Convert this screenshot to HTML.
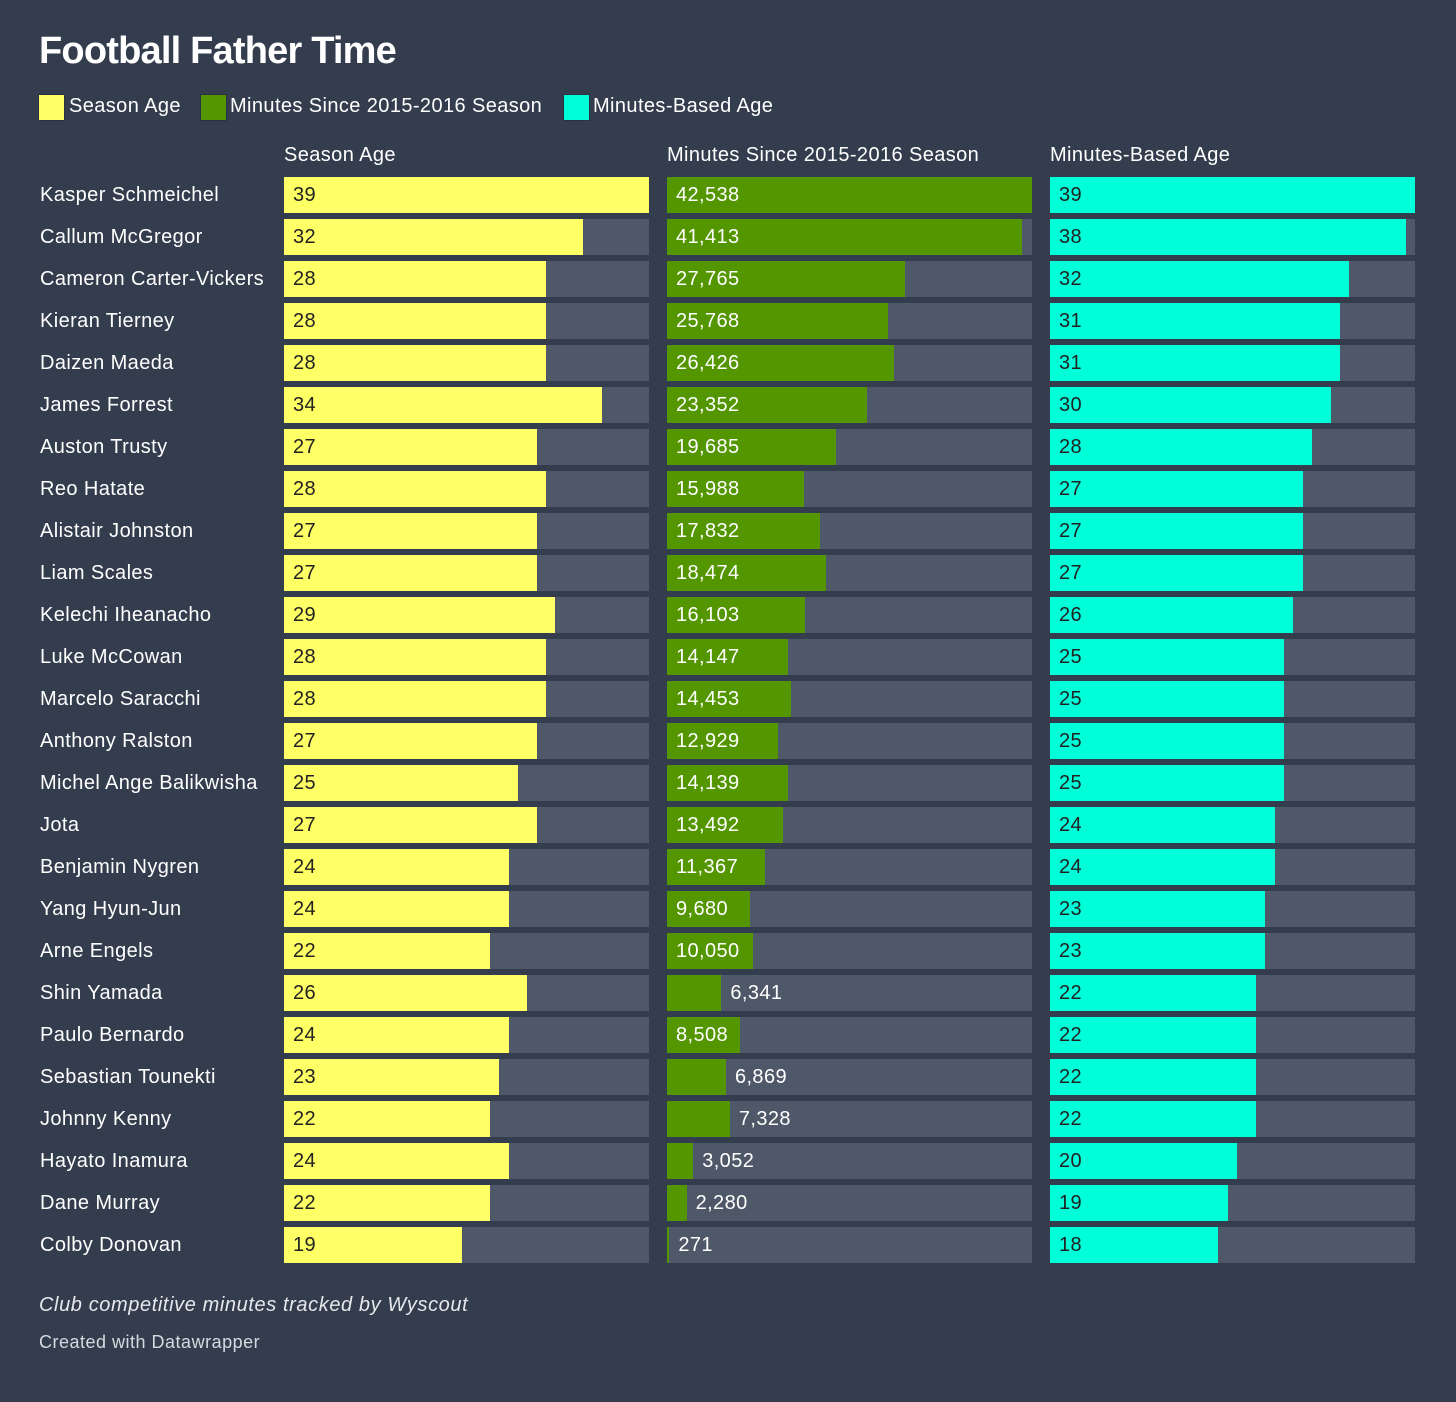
<!DOCTYPE html>
<html><head><meta charset="utf-8"><style>
body{margin:0;width:1456px;height:1402px;background:#333d4e;font-family:"Liberation Sans",sans-serif;color:#fff;position:relative;overflow:hidden}
.a{position:absolute;white-space:nowrap}
.t{font-size:20px;letter-spacing:0.4px}
.bg{position:absolute;background:#4f5868;height:36px}
.bar{position:absolute;left:0;top:0;height:36px}
.lbl{position:absolute;top:0;line-height:36px;font-size:20px;letter-spacing:0.4px}
.sw{position:absolute;width:25px;height:25px;top:94px;border:1px solid #2a3240}
</style></head><body>
<div class="a" style="left:39px;top:30px;font-size:38px;font-weight:bold;letter-spacing:-0.8px">Football Father Time</div>
<div>
<div class="sw" style="left:38px;background:#ffff66"></div>
<div class="a t" style="left:69px;top:95px">Season Age</div>
<div class="sw" style="left:200px;background:#549600"></div>
<div class="a t" style="left:230px;top:95px">Minutes Since 2015-2016 Season</div>
<div class="sw" style="left:563px;background:#00ffd8"></div>
<div class="a t" style="left:593px;top:95px">Minutes-Based Age</div>
</div>
<div class="a t" style="left:284px;top:144px">Season Age</div>
<div class="a t" style="left:667px;top:144px">Minutes Since 2015-2016 Season</div>
<div class="a t" style="left:1050px;top:144px">Minutes-Based Age</div>
<div id="rows"></div>
<div class="a" style="left:39px;top:1294px;font-size:20px;letter-spacing:0.6px;font-style:italic;color:#e6e8ec">Club competitive minutes tracked by Wyscout</div>
<div class="a" style="left:39px;top:1332px;font-size:18px;letter-spacing:0.5px;color:#d6d9de">Created with Datawrapper</div>
<script>
const players=["Kasper Schmeichel","Callum McGregor","Cameron Carter-Vickers","Kieran Tierney","Daizen Maeda","James Forrest","Auston Trusty","Reo Hatate","Alistair Johnston","Liam Scales","Kelechi Iheanacho","Luke McCowan","Marcelo Saracchi","Anthony Ralston","Michel Ange Balikwisha","Jota","Benjamin Nygren","Yang Hyun-Jun","Arne Engels","Shin Yamada","Paulo Bernardo","Sebastian Tounekti","Johnny Kenny","Hayato Inamura","Dane Murray","Colby Donovan"];
const seasonAge=[39,32,28,28,28,34,27,28,27,27,29,28,28,27,25,27,24,24,22,26,24,23,22,24,22,19];
const minutes=[42538,41413,27765,25768,26426,23352,19685,15988,17832,18474,16103,14147,14453,12929,14139,13492,11367,9680,10050,6341,8508,6869,7328,3052,2280,271];
const minutesAge=[39,38,32,31,31,30,28,27,27,27,26,25,25,25,25,24,24,23,23,22,22,22,22,20,19,18];
const cols=[
 {vals:seasonAge,max:39,x:284,color:"#ffff66",txt:"#222",name:"season-age"},
 {vals:minutes,max:42538,x:667,color:"#549600",txt:"#fff",name:"minutes"},
 {vals:minutesAge,max:39,x:1050,color:"#00ffd8",txt:"#222",name:"minutes-age"}];
const W=365,rowH=42,top0=177;
const root=document.getElementById('rows');
players.forEach((p,i)=>{
 const y=top0+i*rowH;
 const n=document.createElement('div');n.className='a t';
 
 
 n.style.cssText=`left:40px;top:${y}px;line-height:36px`;n.textContent=p;root.appendChild(n);
 cols.forEach(c=>{
  const v=c.vals[i],w=v/c.max*W;
  const bg=document.createElement('div');bg.className='bg';
  
  
  bg.style.cssText=`left:${c.x}px;top:${y}px;width:${W}px`;
  const b=document.createElement('div');b.className='bar';
  
  
  b.style.width=w+'px';b.style.background=c.color;bg.appendChild(b);
  const l=document.createElement('div');l.className='lbl';
  
  
  l.textContent=v.toLocaleString('en-US');
  const inside=w>65;
  l.style.left=(inside?9:w+9)+'px';l.style.color=inside?c.txt:'#fff';
  bg.appendChild(l);root.appendChild(bg);
 });
});
</script>
</body></html>
